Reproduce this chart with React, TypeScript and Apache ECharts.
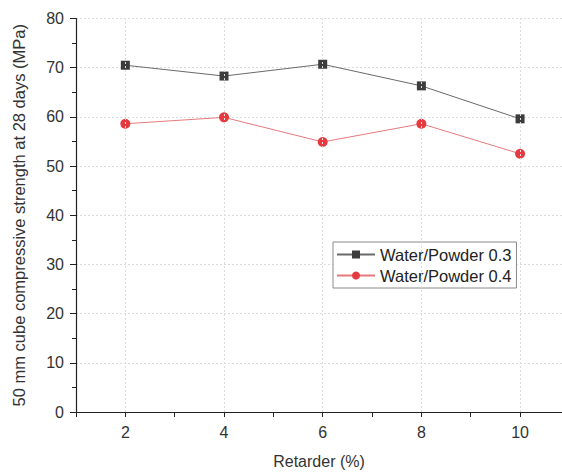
import React, { useEffect, useRef } from "react";
import * as echarts from "echarts";

const retarder = [2, 4, 6, 8, 10];
const wp03 = [70.5, 68.3, 70.7, 66.3, 59.6];
const wp04 = [58.6, 59.9, 54.9, 58.6, 52.5];
const xGridValues = [2, 4, 6, 8, 10];
const xTickValues = [1, 2, 3, 4, 5, 6, 7, 8, 9, 10];
const seriesNames = ["Water/Powder 0.3", "Water/Powder 0.4"];

const FONT = "Liberation Sans, Arial, sans-serif";

export default function App() {
  const ref = useRef<HTMLDivElement>(null);
  useEffect(() => {
    document.body.style.margin = "0";
    const chart = echarts.init(ref.current!, null, { renderer: "svg" });
    chart.setOption({
      animation: false,
      backgroundColor: "#ffffff",
      textStyle: { fontFamily: FONT },
      grid: { left: 76, right: 0, top: 18.5, bottom: 63, containLabel: false },
      legend: {
        orient: "vertical",
        left: 333,
        top: 242,
        padding: [4, 5, 4, 3],
        itemGap: 4,
        itemWidth: 38,
        itemHeight: 10,
        borderColor: "#8a8a8a",
        borderWidth: 1,
        backgroundColor: "#ffffff",
        textStyle: { fontFamily: FONT, fontSize: 16.5, color: "#222" },
        data: seriesNames,
      },
      xAxis: {
        type: "value",
        min: 1,
        max: 10.85,
        interval: 1,
        name: "Retarder (%)",
        nameLocation: "middle",
        nameGap: 41,
        nameTextStyle: { fontFamily: FONT, fontSize: 16, color: "#333" },
        axisLine: { show: true, lineStyle: { color: "#222", width: 1.2 } },
        axisTick: { show: true, length: 5, customValues: xTickValues, lineStyle: { color: "#222" } },
        axisLabel: {
          fontFamily: FONT,
          fontSize: 16,
          color: "#333",
          margin: 12,
          customValues: xGridValues,
          formatter: (v: number) => (v % 2 === 0 && v <= 10 ? String(v) : ""),
        },
        splitLine: { show: false },
      },
      yAxis: {
        type: "value",
        min: 0,
        max: 80,
        interval: 10,
        name: "50 mm cube compressive strength at 28 days (MPa)",
        nameLocation: "middle",
        nameGap: 49,
        nameTextStyle: { fontFamily: FONT, fontSize: 16.5, color: "#333" },
        axisLine: { show: true, lineStyle: { color: "#222", width: 1.2 } },
        axisTick: { show: true, length: 6, lineStyle: { color: "#222" } },
        minorTick: { show: true, splitNumber: 2, length: 4, lineStyle: { color: "#222" } },
        axisLabel: { fontFamily: FONT, fontSize: 16, color: "#333", margin: 12 },
        splitLine: { show: true, lineStyle: { color: "#dcdcdc", type: [2, 2], width: 1 } },
      },
      series: [
        {
          name: seriesNames[0],
          type: "line",
          data: retarder.map((x, i) => [x, wp03[i]]),
          symbol: "rect",
          symbolSize: 9,
          itemStyle: { color: "#3c3c3c" },
          lineStyle: { color: "#6a6a6a", width: 1 },
          markLine: {
            silent: true,
            symbol: "none",
            label: { show: false },
            lineStyle: { color: "#dcdcdc", type: [2, 2], width: 1 },
            data: xGridValues.map((v) => ({ xAxis: v })),
          },
          z: 3,
        },
        {
          name: seriesNames[1],
          type: "line",
          data: retarder.map((x, i) => [x, wp04[i]]),
          symbol: "circle",
          symbolSize: 10,
          itemStyle: { color: "#e53a3f" },
          lineStyle: { color: "#e57a7d", width: 1 },
          z: 3,
        },
      ],
    });
    return () => chart.dispose();
  }, []);
  return <div ref={ref} style={{ width: 562, height: 475 }} />;
}
